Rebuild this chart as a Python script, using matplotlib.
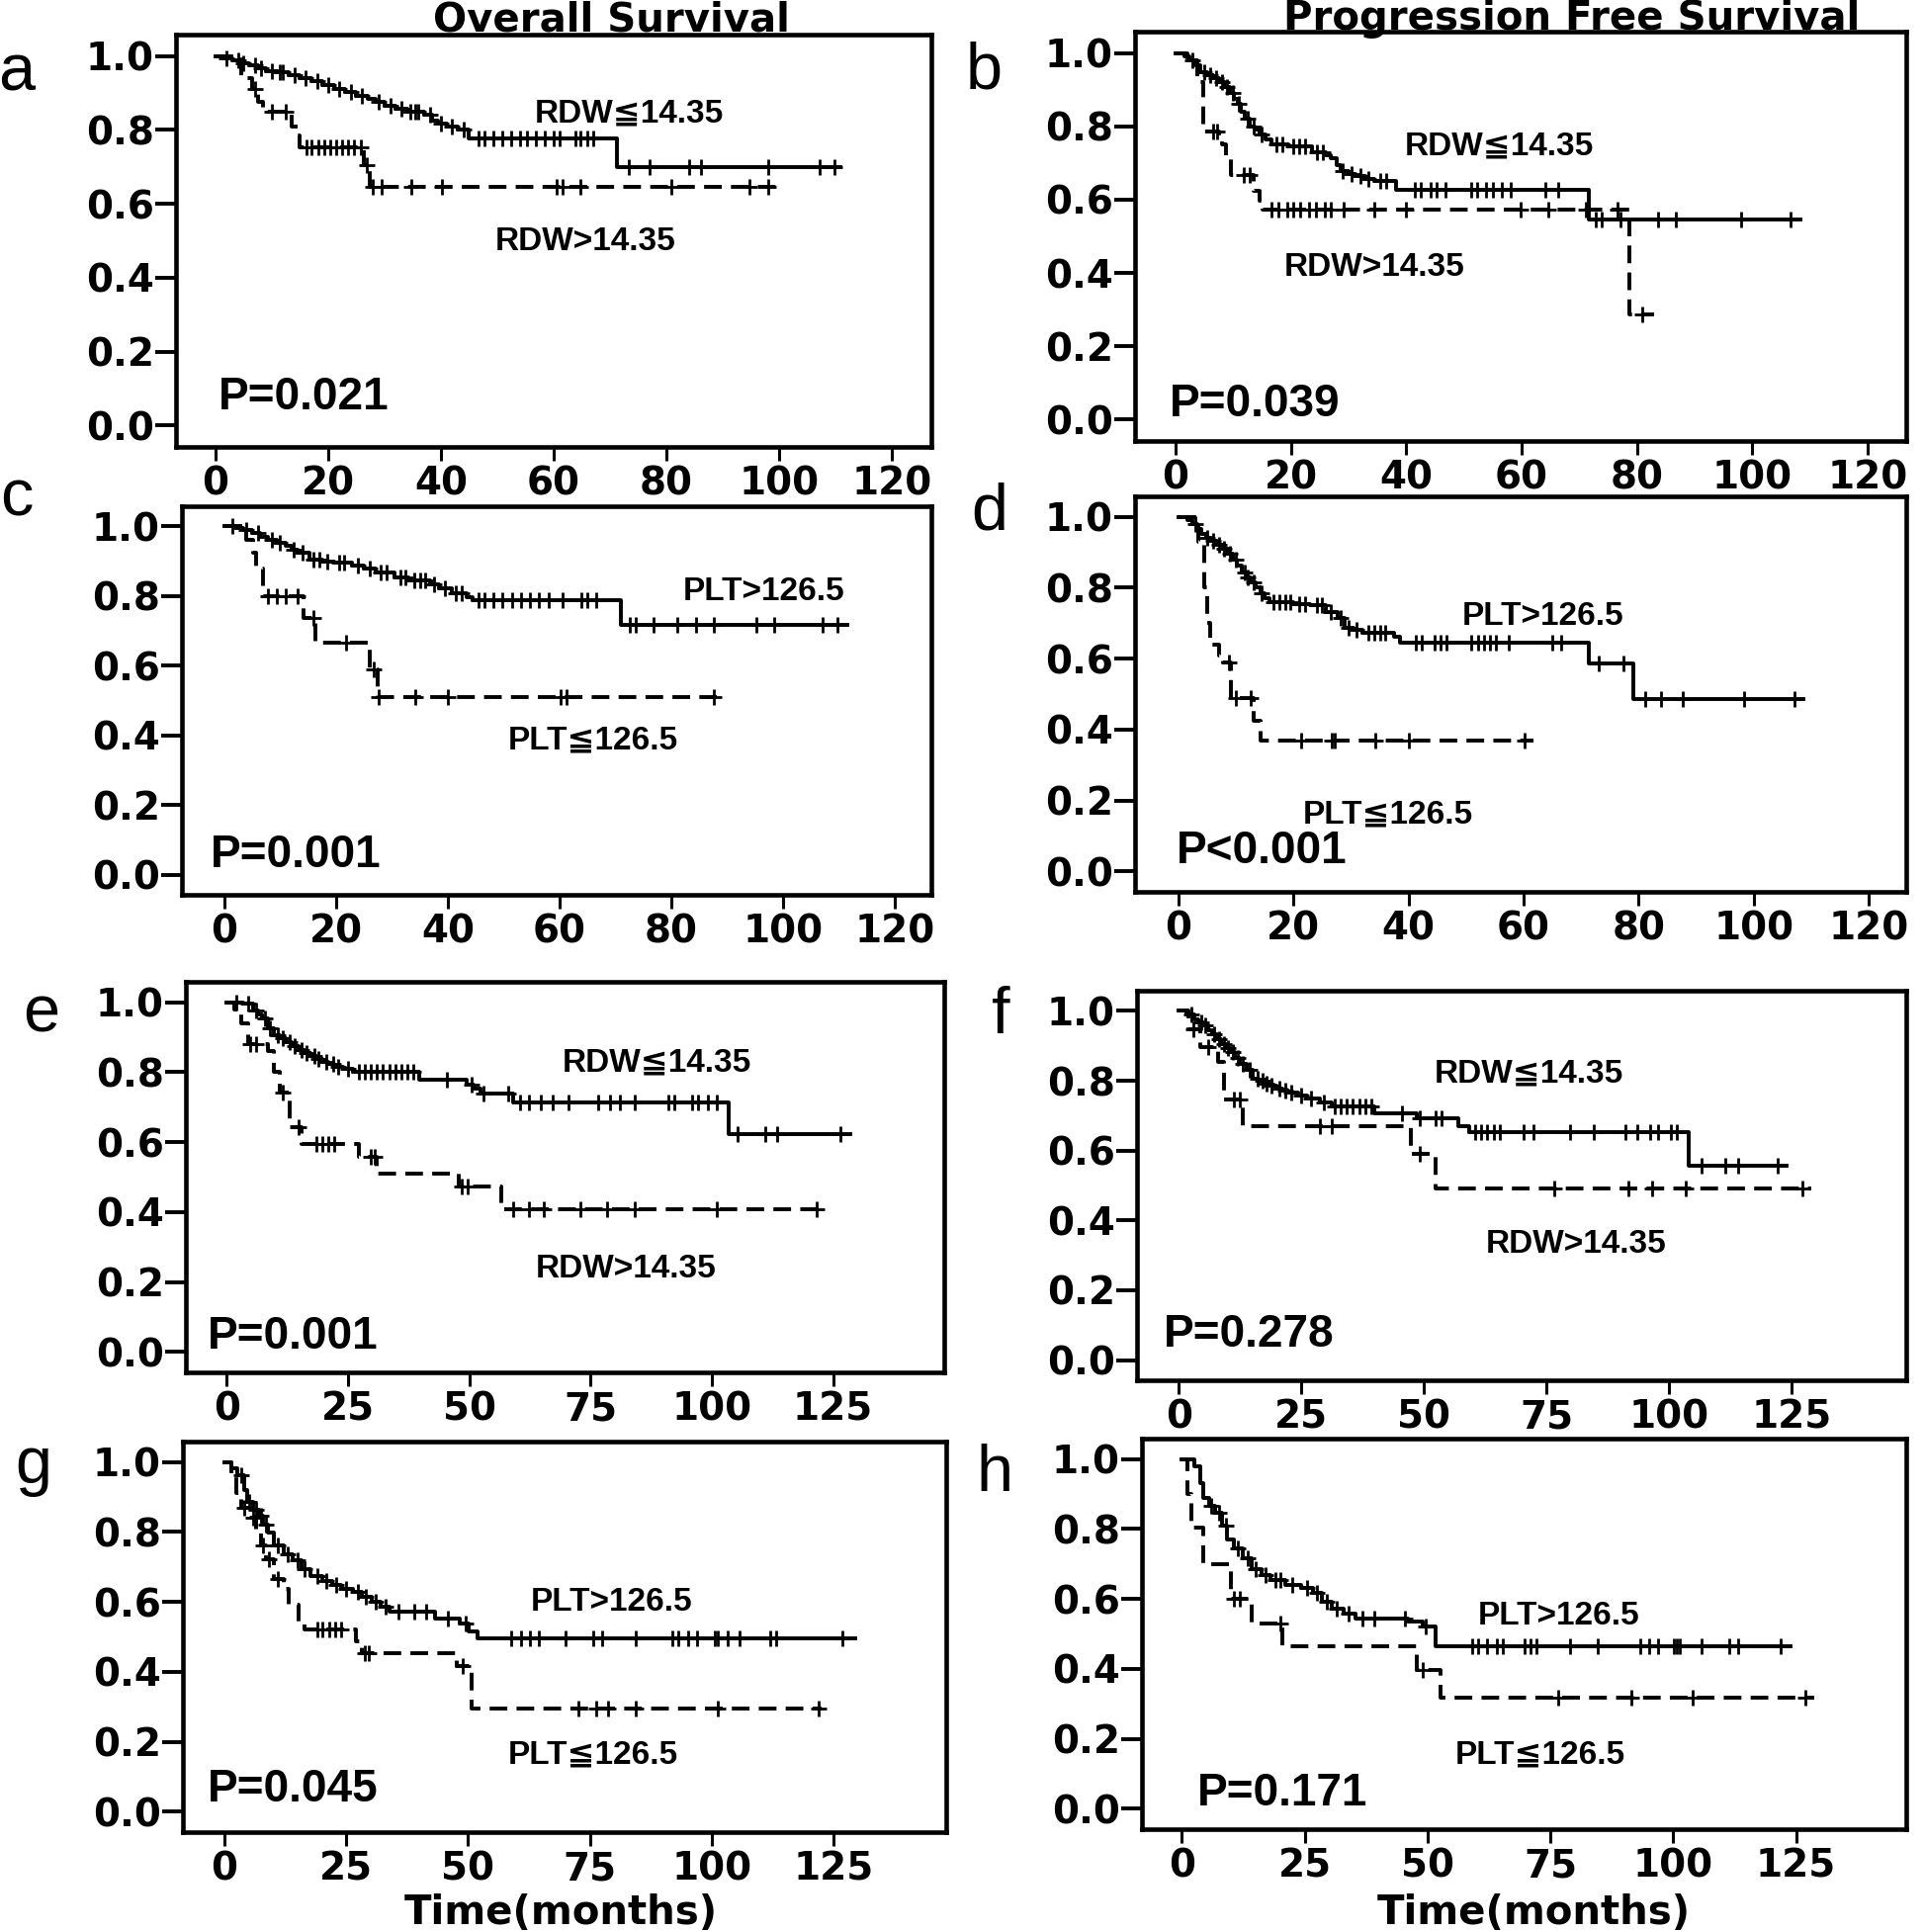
import numpy as np
import matplotlib
matplotlib.use('Agg')
import matplotlib.pyplot as plt
from matplotlib import font_manager as fm

# ---------------- data ----------------
# Each curve: event times, survival after each event, last follow-up, censor times
A_SOLID_T = [1.5, 3, 4.5, 6, 7.5, 9, 11, 13, 15, 17, 19, 21, 23, 25, 27, 28.5, 30, 32, 34, 37, 38.5, 39.5, 41, 43, 45, 71.3]
A_SOLID_S = [0.995, 0.988, 0.981, 0.974, 0.967, 0.96, 0.955, 0.948, 0.94, 0.932, 0.922, 0.912, 0.903, 0.893, 0.884, 0.875,
             0.866, 0.857, 0.85, 0.84, 0.826, 0.817, 0.81, 0.80, 0.778, 0.70]
A_SOLID_END = 110.9
A_SOLID_CENS = [2, 4, 5, 7, 8, 10, 11.5, 12, 14, 16, 18, 20, 22, 24, 26, 29, 31, 33, 34.5, 35.5, 36, 38, 40, 42, 44,
                46.6, 47.7, 49.3, 50.9, 52.5, 54.1, 55.2, 56.8, 58.4, 60.0, 61.1, 63.8, 64.8, 65.9, 67.0,
                73.4, 77.1, 84.1, 86.2, 98.0, 107.1, 109.8]
A_DASH_T = [4.5, 6.5, 7.5, 8.5, 13.5, 14.5, 15, 26.3, 27.3]
A_DASH_S = [0.94, 0.91, 0.875, 0.848, 0.81, 0.786, 0.754, 0.705, 0.645]
A_DASH_END = 99.6
A_DASH_CENS = [7.0, 10.0, 12.5, 16.1, 17.1, 18.2, 19.3, 20.4, 21.4, 22.5, 23.6, 24.6, 25.8, 26.8, 27.9, 29.5, 34.8,
               40.2, 60.5, 61.6, 64.8, 80.9, 94.8, 98.0]

B_SOLID_T = [1.5, 2.5, 3.5, 4.3, 5.5, 6.5, 7.5, 8.6, 9.5, 10.2, 10.8, 11.3, 12, 12.9, 13.8, 14.6, 15.6, 16.7, 19.5,
             23.7, 26, 27, 28, 28.6, 30, 31.3, 33, 34.5, 38.3, 71.7]
B_SOLID_S = [0.99, 0.98, 0.965, 0.948, 0.94, 0.93, 0.92, 0.907, 0.89, 0.876, 0.86, 0.84, 0.82, 0.80, 0.79, 0.777,
             0.763, 0.75, 0.745, 0.73, 0.72, 0.714, 0.695, 0.677, 0.67, 0.664, 0.657, 0.65, 0.628, 0.547]
B_SOLID_END = 108.4
B_SOLID_CENS = [3, 5, 6, 7, 8, 9, 10, 11, 12.5, 13.5, 15, 17.5, 18.5, 20.5, 21.5, 22.5, 24.5, 25.5, 29, 30.5, 32,
                33.5, 35.5, 36.5, 41.5, 42.6, 44.2, 45.3, 46.9, 51.2, 52.3, 53.9, 55.0, 56.6, 58.2, 64.2, 66.3,
                72.8, 73.9, 77.1, 83.6, 86.8, 98.1, 106.7]
B_DASH_T = [2, 3.8, 4.9, 7.5, 8.1, 8.7, 9.7, 13.5, 14.6, 15.1, 78.7]
B_DASH_S = [0.98, 0.92, 0.785, 0.77, 0.75, 0.72, 0.668, 0.623, 0.596, 0.574, 0.286]
B_DASH_END = 83.0
B_DASH_CENS = [6.5, 7.2, 11.9, 12.9, 16.7, 17.8, 19.4, 20.5, 21.6, 23.2, 24.3, 25.9, 27.0, 29.1, 34.5, 39.9, 59.8,
               64.7, 71.2, 76.6, 80.9]

C_SOLID_T = [2, 3.5, 5, 6.5, 7.8, 9.5, 11, 12, 13.2, 15.3, 17.5, 19.6, 22.9, 25, 27.2, 30.4, 33, 36.9, 38.5, 40.7,
             43.4, 44.5, 70.9]
C_SOLID_S = [0.995, 0.99, 0.98, 0.97, 0.962, 0.952, 0.943, 0.934, 0.925, 0.906, 0.90, 0.896, 0.887, 0.878, 0.868,
             0.854, 0.845, 0.835, 0.821, 0.807, 0.797, 0.788, 0.717]
C_SOLID_END = 111.4
C_SOLID_CENS = [1.5, 4, 6, 8.5, 10, 12.5, 14, 16, 17, 18.5, 20.5, 21.5, 24, 26, 28, 29, 31.5, 32.5, 34, 35, 36, 37.5,
                39.5, 41.5, 42.5, 45.5, 46.6, 48.2, 49.8, 51.5, 53.1, 54.7, 56.3, 58.0, 60.6, 63.9, 65.0, 66.6,
                72.5, 73.6, 76.8, 81.1, 84.4, 87.6, 95.2, 98.4, 107.0, 109.7]
C_DASH_T = [4, 5.1, 5.8, 6.9, 14.2, 16.4, 26.1, 27.4]
C_DASH_S = [0.962, 0.925, 0.88, 0.80, 0.736, 0.665, 0.59, 0.51]
C_DASH_END = 88.2
C_DASH_CENS = [7.8, 9.4, 11.0, 13.2, 15.9, 21.8, 26.7, 27.7, 34.2, 40.1, 60.1, 61.2, 87.6]

D_SOLID_T = [1.5, 2.4, 3.2, 4, 4.8, 5.6, 6.7, 7.8, 8.6, 9.4, 10.2, 11, 11.8, 12.6, 13.4, 14.2, 15, 15.9, 20, 22.9,
             25.6, 27.7, 28.8, 30.5, 32, 37.4, 38.5, 71.4, 79]
D_SOLID_S = [0.99, 0.98, 0.965, 0.951, 0.94, 0.933, 0.92, 0.91, 0.895, 0.88, 0.862, 0.844, 0.83, 0.816, 0.80, 0.784,
             0.772, 0.76, 0.755, 0.75, 0.732, 0.714, 0.686, 0.68, 0.672, 0.662, 0.646, 0.586, 0.485]
D_SOLID_END = 108.7
D_SOLID_CENS = [3, 5, 6, 7, 8, 9, 10, 11.5, 12, 13, 14.5, 16.5, 17.5, 18.5, 19.5, 21, 22, 24, 25, 26.5, 28.2, 29.5,
                31, 33, 34, 35, 36, 41.2, 42.3, 44.5, 45.5, 46.6, 50.9, 52.0, 53.1, 54.2, 55.2, 57.4, 65.0, 66.6,
                73.1, 77.4, 81.1, 83.8, 87.6, 98.4, 107.0]
D_DASH_T = [3.5, 4.5, 5.0, 5.5, 7.0, 7.8, 9.2, 13.0, 14.2]
D_DASH_S = [0.93, 0.80, 0.70, 0.64, 0.61, 0.588, 0.49, 0.424, 0.368]
D_DASH_END = 61.7
D_DASH_CENS = [8.8, 9.9, 12.6, 21.3, 26.7, 27.2, 34.2, 40.1, 60.1]

E_SOLID_T = [3.5, 5.4, 6.5, 7.25, 8.5, 9.75, 11, 12.25, 13.5, 14.75, 16, 17.25, 18.5, 19.75, 21, 22.25, 24, 26, 39.75,
             49.5, 51, 52.25, 59, 103.5]
E_SOLID_S = [0.995, 0.976, 0.965, 0.953, 0.925, 0.906, 0.897, 0.887, 0.875, 0.863, 0.854, 0.845, 0.838, 0.83, 0.823,
             0.816, 0.81, 0.802, 0.779, 0.765, 0.752, 0.738, 0.713, 0.623]
E_SOLID_END = 128.5
E_SOLID_CENS = [2, 4.5, 6, 8, 9, 10.5, 11.5, 13, 14, 15.5, 16.5, 18, 19, 20.5, 22, 23, 25, 27.25, 28.5, 29.75, 31,
                32.25, 33.5, 34.75, 36, 37.25, 38.5, 45.4, 50.4, 53, 58, 60.4, 62.25, 64.75, 67.25, 70.4, 76.6,
                79.1, 81, 84.1, 91, 92.25, 96, 97.25, 99.1, 101, 105.4, 111, 113.5, 126.6]
E_DASH_T = [1.5, 3, 4.5, 8.5, 9.75, 11, 12.9, 15.4, 27.25, 31, 47.9, 56.6]
E_DASH_S = [0.98, 0.94, 0.88, 0.859, 0.80, 0.741, 0.642, 0.595, 0.557, 0.51, 0.473, 0.409]
E_DASH_END = 123.5
E_DASH_CENS = [4.75, 6, 11.5, 14.75, 18.5, 19.75, 21, 22.25, 29.75, 30.5, 48.5, 49.75, 59.1, 62.25, 65.4, 72.9,
               78.5, 84.1, 101, 121.6]

F_SOLID_T = [1.5, 3.1, 4, 5, 6, 6.9, 7.8, 8.7, 9.6, 10.6, 11.5, 12.5, 13.8, 15, 16.2, 17.4, 18.6, 19.9, 21.1, 22.4,
             24.3, 26.2, 28.7, 31.2, 39.9, 48.6, 57, 59.2, 104]
F_SOLID_S = [0.99, 0.976, 0.967, 0.958, 0.946, 0.934, 0.92, 0.906, 0.894, 0.882, 0.866, 0.849, 0.83, 0.807, 0.80,
             0.793, 0.786, 0.779, 0.772, 0.765, 0.757, 0.75, 0.737, 0.727, 0.708, 0.694, 0.671, 0.652, 0.558]
F_SOLID_END = 124.0
F_SOLID_CENS = [2.5, 4.5, 5.5, 7.3, 8.2, 9.2, 10, 11, 12, 13, 14.4, 16, 17, 18, 19, 20.5, 21.7, 23, 25, 27, 29.5,
                31.8, 33, 34.3, 35.5, 36.8, 38, 39.3, 45.5, 49.2, 52.3, 53.6, 60.4, 61.7, 62.9, 64.2, 65.4, 70.4,
                72.3, 79.8, 84.7, 91, 93.5, 96, 97.8, 100.3, 101.6, 106.6, 111.5, 114, 122.1]
F_DASH_T = [1.9, 4.4, 8.1, 9.3, 13.1, 47.4, 52.3]
F_DASH_S = [0.948, 0.897, 0.854, 0.746, 0.671, 0.591, 0.492]
F_DASH_END = 129.0
F_DASH_CENS = [3, 6, 11.2, 12.5, 28.7, 31.2, 49.2, 76.6, 91.6, 96.6, 103.4, 127.1]

G_SOLID_T = [1.5, 2.7, 4, 4.6, 5.9, 7.1, 8, 9, 10.2, 12.1, 14, 15.8, 17.7, 20.2, 22.1, 24, 26.4, 28.3, 30.2, 32.1,
             33.9, 43.3, 48.3, 50.1, 52]
G_SOLID_S = [0.981, 0.962, 0.92, 0.887, 0.864, 0.845, 0.822, 0.798, 0.76, 0.737, 0.718, 0.694, 0.675, 0.661, 0.647,
             0.638, 0.628, 0.614, 0.60, 0.586, 0.572, 0.553, 0.539, 0.516, 0.497]
G_SOLID_END = 129.4
G_SOLID_CENS = [3.5, 5, 6.5, 7.5, 8.5, 11, 13, 15, 16.5, 19, 21, 23, 25, 27.5, 29, 31, 33, 35.8, 38.9, 41.4, 45.8,
                49.5, 58.9, 60.8, 62.6, 64.5, 70.1, 75.7, 77.6, 84.5, 91.9, 93.2, 95.1, 96.9, 100.7, 101.3, 103.2,
                105.7, 111.9, 113.2, 126.9]
G_DASH_T = [1.5, 2.5, 3.5, 5, 6.5, 7.5, 8.5, 10.2, 12.1, 13.3, 15.2, 16.5, 27.1, 28.3, 47.7, 50.8]
G_DASH_S = [0.96, 0.911, 0.87, 0.84, 0.80, 0.76, 0.722, 0.666, 0.638, 0.591, 0.539, 0.52, 0.487, 0.454, 0.417, 0.294]
G_DASH_END = 122.5
G_DASH_CENS = [4, 6, 8, 9.2, 11, 19, 20.2, 21.5, 22.7, 24, 28.9, 29.6, 48.9, 72.6, 76.3, 78.8, 84.5, 101.3, 121.9]

H_SOLID_T = [2.5, 3.7, 4.4, 5.6, 6.8, 8.1, 9.3, 10.6, 12.4, 14.3, 16.2, 18, 21.1, 24.3, 26.7, 28.6, 30.5, 33, 35.4,
             46, 49.1, 51.6]
H_SOLID_S = [0.979, 0.932, 0.889, 0.866, 0.847, 0.809, 0.771, 0.743, 0.715, 0.686, 0.668, 0.653, 0.639, 0.63, 0.616,
             0.592, 0.573, 0.559, 0.545, 0.535, 0.521, 0.465]
H_SOLID_END = 123.8
H_SOLID_CENS = [6, 7.5, 9, 11.5, 13.5, 15, 17, 19, 20, 22.5, 25.5, 27.5, 29.5, 31.5, 34, 36.7, 39.2, 45.4, 49.6, 59.1,
                60.3, 62.2, 64.1, 65.3, 69.7, 70.9, 72.1, 79, 84.6, 93.3, 95.1, 97, 100.1, 100.7, 101.4, 105.7,
                111.3, 113.2, 121.9]
H_DASH_T = [1.2, 2, 4.4, 10, 14.3, 20.5, 47.9, 52.6]
H_DASH_S = [0.90, 0.805, 0.70, 0.60, 0.531, 0.465, 0.398, 0.318]
H_DASH_END = 128.7
H_DASH_CENS = [10.6, 11.8, 20.0, 49.1, 76.5, 91.4, 103.9, 126.9]

PANEL_LETTERS = ['a', 'b', 'c', 'd', 'e', 'f', 'g', 'h']
SOLID_LABELS = ['RDW≦14.35', 'RDW≦14.35', 'PLT>126.5', 'PLT>126.5', 'RDW≦14.35', 'RDW≦14.35', 'PLT>126.5', 'PLT>126.5']
DASH_LABELS = ['RDW>14.35', 'RDW>14.35', 'PLT≦126.5', 'PLT≦126.5', 'RDW>14.35', 'RDW>14.35', 'PLT≦126.5', 'PLT≦126.5']
P_TEXTS = ['P=0.021', 'P=0.039', 'P=0.001', 'P<0.001', 'P=0.001', 'P=0.278', 'P=0.045', 'P=0.171']
Y_TICKS = [0.0, 0.2, 0.4, 0.6, 0.8, 1.0]
X_TICKS_120 = [0, 20, 40, 60, 80, 100, 120]
X_TICKS_125 = [0, 25, 50, 75, 100, 125]
COL_TITLES = ['Overall Survival', 'Progression Free Survival']
X_LABEL = 'Time(months)'

# ---------------- layout (pixel boxes, fonts) ----------------
W, H = 1946, 1954
BOXES = [(178, 942, 35, 452), (1148, 1928, 32, 446),
         (184, 942, 512, 905), (1148, 1928, 502, 902),
         (188, 955, 993, 1388), (1150, 1928, 1002, 1396),
         (185, 957, 1458, 1853), (1155, 1928, 1455, 1850)]
XLIMS = [(-7.0, 127.0), (-7.0, 126.7), (-7.55, 126.5), (-7.55, 126.5),
         (-8.4, 147.9), (-8.5, 148.3), (-8.5, 148.1), (-8.1, 147.4)]
SOLID_LBL_POS = [(73.4, 0.843), (56.1, 0.745), (96.5, 0.811), (63.3, 0.718),
                 (88.75, 0.826), (71.3, 0.821), (79.5, 0.60), (76.7, 0.55)]
DASH_LBL_POS = [(65.7, 0.496), (34.5, 0.416), (66.0, 0.384), (36.4, 0.161),
                (82.25, 0.237), (81.0, 0.332), (75.7, 0.163), (73.0, 0.153)]
P_POS = [(0.5, 0.076), (-1.1, 0.042), (-2.5, 0.057), (-0.3, 0.056),
         (-4.0, 0.044), (-3.1, 0.073), (-3.5, 0.064), (3.1, 0.044)]
LETTER_POS = [(17, 92), (995, 90), (17, 522), (1001, 536), (42, 1043), (1012, 1045), (34, 1500), (1006, 1508)]

names = {f.name for f in fm.fontManager.ttflist}
ARIAL = 'Liberation Sans' if 'Liberation Sans' in names else 'DejaVu Sans'
plt.rcParams['font.family'] = ['DejaVu Sans']
plt.rcParams['font.weight'] = 'bold'

CURVES = [
    (A_SOLID_T, A_SOLID_S, A_SOLID_END, A_SOLID_CENS, A_DASH_T, A_DASH_S, A_DASH_END, A_DASH_CENS),
    (B_SOLID_T, B_SOLID_S, B_SOLID_END, B_SOLID_CENS, B_DASH_T, B_DASH_S, B_DASH_END, B_DASH_CENS),
    (C_SOLID_T, C_SOLID_S, C_SOLID_END, C_SOLID_CENS, C_DASH_T, C_DASH_S, C_DASH_END, C_DASH_CENS),
    (D_SOLID_T, D_SOLID_S, D_SOLID_END, D_SOLID_CENS, D_DASH_T, D_DASH_S, D_DASH_END, D_DASH_CENS),
    (E_SOLID_T, E_SOLID_S, E_SOLID_END, E_SOLID_CENS, E_DASH_T, E_DASH_S, E_DASH_END, E_DASH_CENS),
    (F_SOLID_T, F_SOLID_S, F_SOLID_END, F_SOLID_CENS, F_DASH_T, F_DASH_S, F_DASH_END, F_DASH_CENS),
    (G_SOLID_T, G_SOLID_S, G_SOLID_END, G_SOLID_CENS, G_DASH_T, G_DASH_S, G_DASH_END, G_DASH_CENS),
    (H_SOLID_T, H_SOLID_S, H_SOLID_END, H_SOLID_CENS, H_DASH_T, H_DASH_S, H_DASH_END, H_DASH_CENS),
]


def km_curve(ax, t, s, end, cens, dashed):
    x = np.r_[0.0, t, end]
    y = np.r_[1.0, s, s[-1]]
    ls = (0, (4.6, 2.4)) if dashed else '-'
    ax.plot(x, y, drawstyle='steps-post', color='black', lw=2.8, ls=ls)
    levels = np.r_[1.0, s]
    idx = np.searchsorted(np.asarray(t), np.asarray(cens), side='right')
    ax.plot(cens, levels[idx], ls='none', marker='+', ms=12, mew=2.0, color='black')


fig = plt.figure(figsize=(W / 100, H / 100), dpi=100)

for i in range(8):
    L, R, T, B = BOXES[i]
    ax = fig.add_axes([L / W, 1 - B / H, (R - L) / W, (B - T) / H])
    st, ss, se, sc, dt, ds, de, dc = CURVES[i]
    km_curve(ax, st, ss, se, sc, False)
    km_curve(ax, dt, ds, de, dc, True)
    ax.set_xlim(*XLIMS[i])
    ax.set_ylim(-0.058, 1.058)
    ax.set_yticks(Y_TICKS)
    ax.set_yticklabels([f'{v:.1f}' for v in Y_TICKS])
    xt = X_TICKS_120 if i < 4 else X_TICKS_125
    ax.set_xticks(xt)
    ax.set_xticklabels([str(v) for v in xt])
    for sp in ax.spines.values():
        sp.set_linewidth(3.3)
    ax.tick_params(axis='y', length=15, width=2.8, pad=1, labelsize=28)
    ax.tick_params(axis='x', length=10, width=2.2, pad=3, labelsize=28)
    ax.text(*SOLID_LBL_POS[i], SOLID_LABELS[i], fontsize=24, fontweight='bold',
            family=[ARIAL, 'DejaVu Sans'], ha='center', va='center')
    ax.text(*DASH_LBL_POS[i], DASH_LABELS[i], fontsize=24, fontweight='bold',
            family=[ARIAL, 'DejaVu Sans'], ha='center', va='center')
    ax.text(*P_POS[i], P_TEXTS[i], fontsize=33, fontweight='bold',
            family=[ARIAL, 'DejaVu Sans'], ha='left', va='center')
    lx, ly = LETTER_POS[i]
    fig.text(lx / W, 1 - ly / H, PANEL_LETTERS[i], fontsize=48, fontweight='normal',
             family=[ARIAL, 'DejaVu Sans'], ha='center', va='baseline')

fig.text(618 / W, 1 - 32 / H, COL_TITLES[0], fontsize=29, fontweight='bold', ha='center', va='baseline')
fig.text(1590 / W, 1 - 30 / H, COL_TITLES[1], fontsize=29, fontweight='bold', ha='center', va='baseline')
fig.text(567 / W, 1 - 1946 / H, X_LABEL, fontsize=29, fontweight='bold', ha='center', va='baseline')
fig.text(1551 / W, 1 - 1946 / H, X_LABEL, fontsize=29, fontweight='bold', ha='center', va='baseline')

fig.savefig('out.png', dpi=100, facecolor='white')
